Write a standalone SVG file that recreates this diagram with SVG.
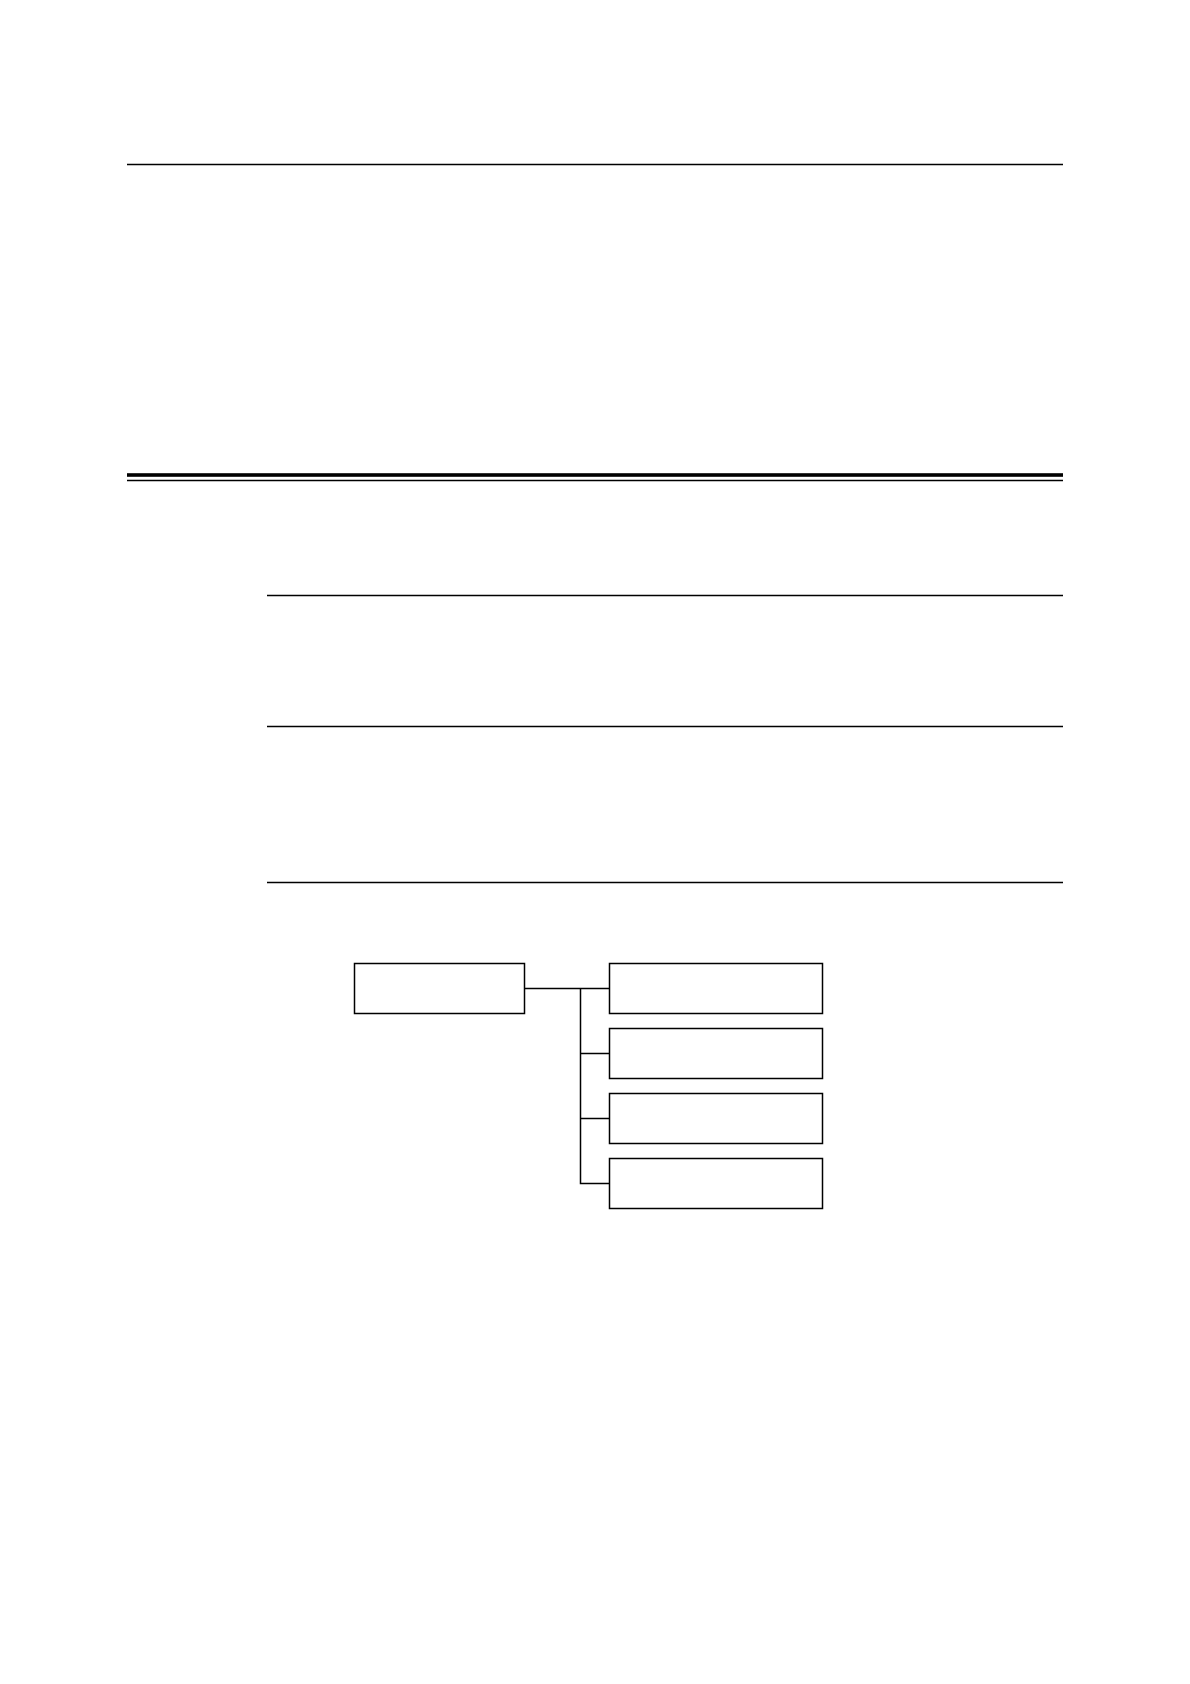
<svg xmlns="http://www.w3.org/2000/svg" width="1190" height="1684" viewBox="0 0 1190 1684">
<style>
.rule{stroke:#000;stroke-width:1.4;fill:none}
.box{fill:#fff;stroke:#000;stroke-width:1.5}
.conn{stroke:#000;stroke-width:1.5;fill:none}
</style>
<rect x="0" y="0" width="1190" height="1684" fill="#fff"/>
<g id="rules">
<line class="rule" x1="127" y1="164.5" x2="1063" y2="164.5"/>
<rect x="127" y="473.2" width="936" height="3.6" fill="#000"/>
<line class="rule" x1="127" y1="480.5" x2="1063" y2="480.5"/>
<line class="rule" x1="267" y1="595.5" x2="1063" y2="595.5"/>
<line class="rule" x1="267" y1="726.5" x2="1063" y2="726.5"/>
<line class="rule" x1="267" y1="882.5" x2="1063" y2="882.5"/>
</g>
<g id="connectors">
<path class="conn" d="M524.5 988.5 H609.5 M580.5 988.5 V1183.5 H609.5 M580.5 1053.5 H609.5 M580.5 1118.5 H609.5"/>
</g>
<g id="root"><rect class="box" x="354.5" y="963.5" width="170" height="50"/></g>
<g id="child1"><rect class="box" x="609.5" y="963.5" width="213" height="50"/></g>
<g id="child2"><rect class="box" x="609.5" y="1028.5" width="213" height="50"/></g>
<g id="child3"><rect class="box" x="609.5" y="1093.5" width="213" height="50"/></g>
<g id="child4"><rect class="box" x="609.5" y="1158.5" width="213" height="50"/></g>
</svg>
